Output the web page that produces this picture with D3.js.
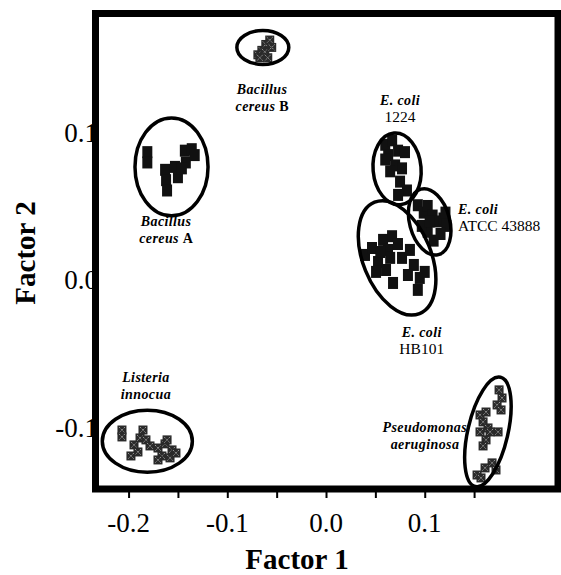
<!DOCTYPE html>
<html>
<head>
<meta charset="utf-8">
<script src="https://cdn.jsdelivr.net/npm/d3@7"></script>
<style>
  body { margin: 0; background: #fff; }
  text { font-family: "Liberation Serif", "Times New Roman", serif; }
</style>
</head>
<body>
<script>
// factor scores, [factor1, factor2]
var bacillusA = [[-0.181,0.087],[-0.181,0.080],[-0.163,0.075],[-0.162,0.068],[-0.161,0.061],
  [-0.153,0.077],[-0.150,0.070],[-0.143,0.088],[-0.136,0.089],[-0.142,0.080],[-0.146,0.076],[-0.133,0.085]];
var bacillusB = [[-0.069,0.153],[-0.065,0.156],[-0.061,0.160],[-0.057,0.163],[-0.062,0.155],
  [-0.055,0.158],[-0.067,0.151],[-0.059,0.151]];
var coli1224 = [[0.060,0.092],[0.067,0.095],[0.063,0.085],[0.073,0.088],[0.080,0.087],[0.070,0.078],
  [0.077,0.076],[0.065,0.074],[0.075,0.067],[0.082,0.061],[0.073,0.058],[0.060,0.082]];
var coliATCC = [[0.093,0.051],[0.099,0.046],[0.103,0.0505],[0.108,0.044],[0.113,0.040],[0.119,0.042],
  [0.122,0.037],[0.103,0.033],[0.109,0.027],[0.097,0.037],[0.116,0.0315],[0.121,0.046],[0.105,0.040]];
var coliHB101 = [[0.0395,0.0173],[0.0466,0.022],[0.0527,0.0125],[0.0578,0.0275],[0.0628,0.0207],
  [0.0669,0.030],[0.0729,0.0247],[0.0507,0.0058],[0.0608,0.0071],[0.0679,-0.0017],[0.077,0.0153],
  [0.085,0.0207],[0.089,0.0105],[0.095,0.0017],[0.093,-0.0064],[0.083,0.0037],[0.100,0.0058],
  [0.065,0.0153],[0.055,0.0193]];
var listeria = [[-0.2067,-0.1014],[-0.2067,-0.1061],[-0.1945,-0.1115],[-0.1884,-0.1068],[-0.1854,-0.1014],
  [-0.1824,-0.1081],[-0.1905,-0.1163],[-0.1976,-0.119],[-0.1783,-0.1122],[-0.1702,-0.1136],
  [-0.1631,-0.1108],[-0.156,-0.1149],[-0.1662,-0.119],[-0.158,-0.1203],[-0.152,-0.117],
  [-0.1702,-0.1217],[-0.161,-0.1081]];
var pseudomonas = [[0.1753,-0.0742],[0.1783,-0.0797],[0.1733,-0.0844],[0.1773,-0.0878],[0.156,-0.0912],
  [0.1621,-0.0892],[0.1591,-0.0959],[0.1641,-0.100],[0.156,-0.1027],[0.1621,-0.1081],[0.1591,-0.1122],
  [0.1743,-0.1027],[0.1662,-0.1027],[0.153,-0.1319],[0.1611,-0.1271],[0.1682,-0.1237],
  [0.1722,-0.1285],[0.157,-0.1339]];

var xTicks = [-0.2, -0.1, 0.0, 0.1];
var xMinor = [-0.15, -0.05, 0.05, 0.15];
var yTicks = [-0.1, 0.0, 0.1];

// groups: points, marker kind, ellipse centre/radii (data units), tilt
var groups = [
  {pts: bacillusA,   kind: "solid", c: [-0.1565, 0.077],  r: [0.037, 0.0332],  rot: 0},
  {pts: bacillusB,   kind: "hatch", c: [-0.064, 0.158],   r: [0.0263, 0.0115], rot: 0},
  {pts: coli1224,    kind: "solid", c: [0.072, 0.0756],   r: [0.0243, 0.0244], rot: -5},
  {pts: coliATCC,    kind: "solid", c: [0.105, 0.0397],   r: [0.0203, 0.023],  rot: -15},
  {pts: coliHB101,   kind: "solid", c: [0.072, 0.0153],   r: [0.0345, 0.0407], rot: -22},
  {pts: listeria,    kind: "hatch", c: [-0.181, -0.109],  r: [0.0456, 0.021],  rot: 0},
  {pts: pseudomonas, kind: "hatch", c: [0.164, -0.1027],  r: [0.0203, 0.038],  rot: 13}
];

// species labels: [x, y] anchor in data units, lines of [text, style]
var labels = [
  {at: [-0.0648, 0.1264], anchor: "middle", lines: [[["Bacillus","bi"]], [["cereus ","bi"],["B","b"]]]},
  {at: [-0.162, 0.037],   anchor: "middle", lines: [[["Bacillus","bi"]], [["cereus ","bi"],["A","b"]]]},
  {at: [0.075, 0.119],    anchor: "middle", lines: [[["E. coli","bi"]], [["1224","r"]]]},
  {at: [0.1337, 0.0451],  anchor: "start",  lines: [[["E. coli","bi"]], [["ATCC 43888","r"]]]},
  {at: [0.097, -0.0383],  anchor: "middle", lines: [[["E. coli","bi"]], [["HB101","r"]]]},
  {at: [-0.1824, -0.0688],anchor: "middle", lines: [[["Listeria","bi"]], [["innocua","bi"]]]},
  {at: [0.1429, -0.1027], anchor: "end",    lines: [[["Pseudomonas","bi"]], [["aeruginosa\u00a0\u00a0","bi"]]]}
];

var W = 561, H = 575;
var x = d3.scaleLinear().domain([-0.2335, 0.235]).range([95.5, 558]);
var y = d3.scaleLinear().domain([-0.1414, 0.181]).range([489, 13.5]);
var kx = x(1) - x(0), ky = y(0) - y(1);

var svg = d3.select("body").append("svg")
    .attr("width", W)
    .attr("height", H);

// x axis: major + minor ticks outward, labels
svg.append("g")
    .attr("transform", "translate(0,489)")
    .call(d3.axisBottom(x).tickValues(xTicks.concat(xMinor)).tickSize(9).tickFormat(""))
    .call(function(g) {
      g.select(".domain").remove();
      g.selectAll("line").attr("stroke", "#000").attr("stroke-width", 2);
    });

svg.append("g").selectAll("text")
    .data(xTicks)
    .enter().append("text")
    .attr("x", function(d) { return x(d); })
    .attr("y", 532)
    .attr("text-anchor", "middle")
    .style("font-size", "27px")
    .text(function(d) { return d3.format(".1f")(d).replace("\u2212", "-"); });

svg.append("g").selectAll("text")
    .data(yTicks)
    .enter().append("text")
    .attr("x", 98)
    .attr("y", function(d) { return y(d) + 9; })
    .attr("text-anchor", "end")
    .style("font-size", "27px")
    .text(function(d) { return d3.format(".1f")(d).replace("\u2212", "-"); });

// axis titles
svg.append("text")
    .attr("x", 297)
    .attr("y", 569)
    .attr("text-anchor", "middle")
    .style("font-size", "29px")
    .style("font-weight", "bold")
    .text("Factor 1");

svg.append("text")
    .attr("transform", "translate(35,253) rotate(-90)")
    .attr("text-anchor", "middle")
    .style("font-size", "29px")
    .style("font-weight", "bold")
    .text("Factor 2");

// white plot area
svg.append("rect")
    .attr("x", x(-0.2335)).attr("y", y(0.181))
    .attr("width", x(0.235) - x(-0.2335))
    .attr("height", y(-0.1414) - y(0.181))
    .attr("fill", "#fff");

var plot = svg.append("g");

// points
groups.forEach(function(g, gi) {
  var sel = plot.selectAll("g.pt" + gi)
    .data(g.pts)
    .enter().append("g")
    .attr("class", "pt" + gi)
    .attr("transform", function(d) { return "translate(" + x(d[0]) + "," + y(d[1]) + ")"; });

  if (g.kind === "solid") {
    sel.append("rect")
      .attr("x", -5).attr("y", -6).attr("width", 10).attr("height", 12)
      .attr("fill", "#111");
  } else {
    sel.append("rect")
      .attr("x", -4.5).attr("y", -4.5).attr("width", 9).attr("height", 9)
      .attr("fill", "#2a2a2a");
    sel.append("path")
      .attr("d", "M-3,-3L3,3M3,-3L-3,3")
      .attr("stroke", "#9a9a9a")
      .attr("stroke-width", 1)
      .attr("stroke-dasharray", "1.5,1");
  }
});

// ellipses round each cluster
plot.selectAll("ellipse")
    .data(groups)
    .enter().append("ellipse")
    .attr("transform", function(d) { return "translate(" + x(d.c[0]) + "," + y(d.c[1]) + ") rotate(" + d.rot + ")"; })
    .attr("rx", function(d) { return d.r[0] * kx; })
    .attr("ry", function(d) { return d.r[1] * ky; })
    .attr("fill", "none")
    .attr("stroke", "#000")
    .attr("stroke-width", 3.5);

// species labels
labels.forEach(function(l) {
  var t = plot.append("text")
    .attr("x", x(l.at[0]))
    .attr("y", y(l.at[1]))
    .attr("text-anchor", l.anchor);
  l.lines.forEach(function(line, li) {
    line.forEach(function(part, pi) {
      var ts = t.append("tspan").text(part[0]);
      if (pi === 0) ts.attr("x", x(l.at[0])).attr("dy", li === 0 ? 0 : 17);
      if (part[1] === "bi") ts.style("font-weight", "bold").style("font-style", "italic")
        .style("font-size", "14px").style("letter-spacing", "0.4px");
      else if (part[1] === "b") ts.style("font-weight", "bold").style("font-size", "14px");
      else ts.style("font-size", "15.5px");
    });
  });
});

// thick frame
svg.append("rect")
    .attr("x", x(-0.2335)).attr("y", y(0.181))
    .attr("width", x(0.235) - x(-0.2335))
    .attr("height", y(-0.1414) - y(0.181))
    .attr("fill", "none")
    .attr("stroke", "#000")
    .attr("stroke-width", 7);
</script>
</body>
</html>
